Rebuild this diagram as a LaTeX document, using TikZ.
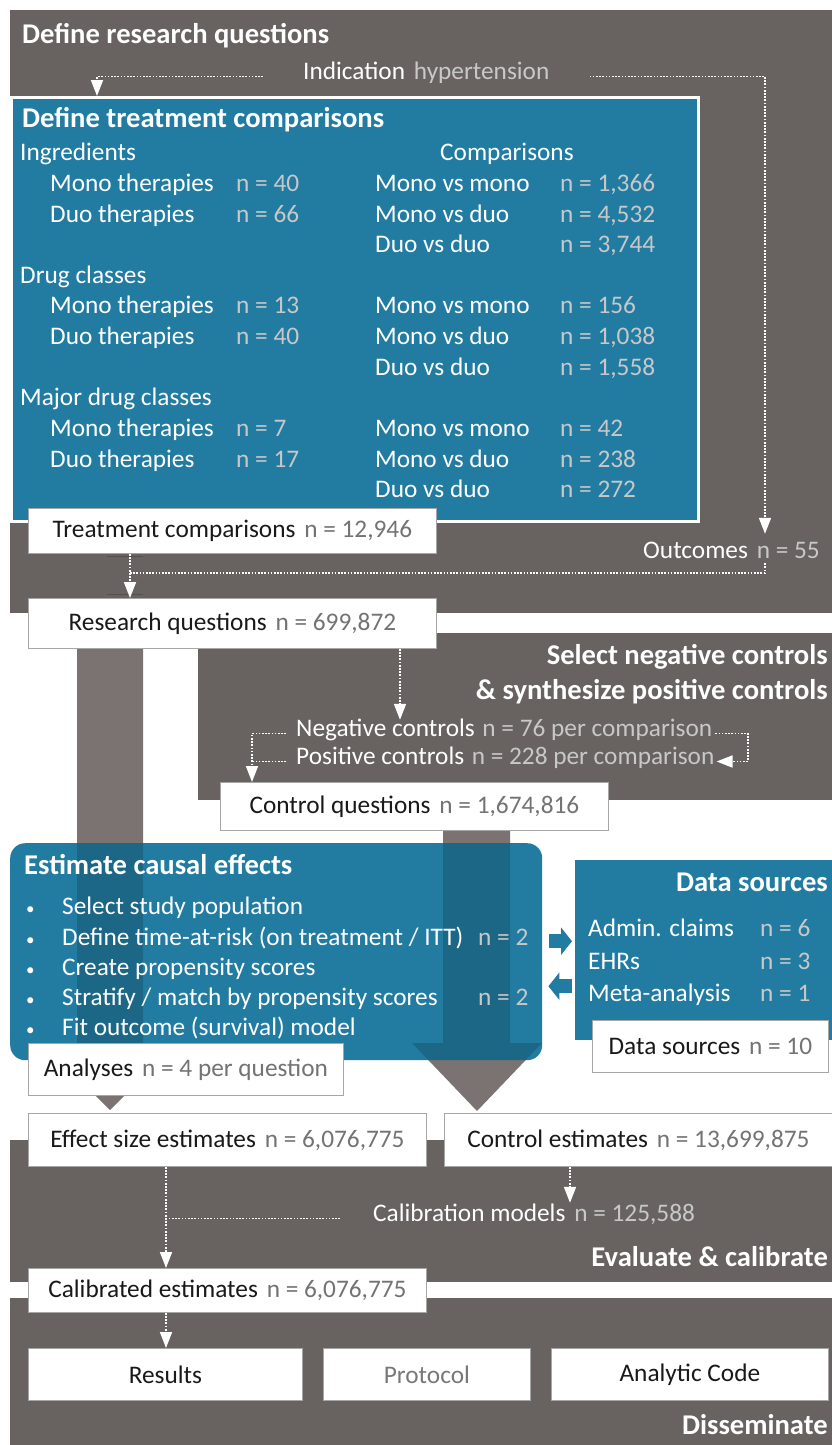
\documentclass[tikz,border=0pt]{standalone}
\usepackage{fontspec}
\setmainfont{Carlito}
\usetikzlibrary{arrows.meta,calc}
\definecolor{panel}{RGB}{104,98,97}
\definecolor{panelline}{RGB}{85,80,79}
\definecolor{tblue}{RGB}{34,124,162}
\definecolor{shaftc}{RGB}{122,115,113}
\definecolor{lval}{RGB}{200,200,200}
\definecolor{dval}{RGB}{115,115,115}
\definecolor{dtext}{RGB}{25,25,25}
\definecolor{pcol}{RGB}{120,120,120}
\begin{document}
\begin{tikzpicture}[x=1pt,y=-1pt,
  every node/.style={font=\fontsize{25.3}{30}\selectfont},
  txt/.style={inner sep=0pt, anchor=west, text height=0.7em, text depth=0.2em, text=white, yshift=-6.5pt},
  val/.style={txt, text=lval},
  ttl/.style={txt, font=\fontsize{28.6}{33}\selectfont\bfseries},
  panelbox/.style={fill=panel, draw=none, anchor=north west, inner sep=0pt},
  bluebox/.style={fill=tblue, draw=none, anchor=north west, inner sep=0pt},
  wbox/.style={fill=white, draw=gray!70, line width=0.8pt, anchor=north west, inner sep=0pt, text=dtext},
  flow/.style={draw=white, line width=1.7pt, dash pattern=on 1.7pt off 1.5pt},
  arr/.style={flow, -{Triangle[width=12pt,length=16pt,fill=white]}},
  barr/.style={draw=tblue, line width=14pt, -{Triangle[width=27pt,length=11pt]}}
]
\useasboundingbox (0,0) rectangle (832,1445);
\fill[white] (0,0) rectangle (832,1445);

% helper coordinates
\coordinate (x97) at (97,0);
\coordinate (x130) at (130,0);
\coordinate (x166) at (166,0);
\coordinate (x252) at (252,0);
\coordinate (x400) at (400,0);
\coordinate (x570) at (570,0);
\coordinate (x748) at (748,0);
\coordinate (x765) at (765,0);

% panels
\node[panelbox, minimum width=822pt, minimum height=603pt] (p1) at (10,10) {};
\node[panelbox, minimum width=634pt, minimum height=167pt] (p2) at (198,633) {};
\node[panelbox, minimum width=822pt, minimum height=142pt] (p3) at (10,1140) {};
\node[panelbox, minimum width=822pt, minimum height=147pt] (p4) at (10,1298) {};

% faint shaft edges between treatment comparisons and research questions
\draw[panelline, line width=1pt] (107,556) -- (143,556);
\draw[panelline, line width=1pt] (107,594) -- (143,594);

% big grey shafts
\fill[shaftc] (77,648) -- (143,648) -- (143,1060) -- (160,1060) -- (110,1110) -- (60,1060) -- (77,1060) -- cycle;
\fill[shaftc] (443,830) -- (510,830) -- (510,1043) -- (542,1043) -- (477,1111) -- (412,1043) -- (443,1043) -- cycle;

% blue boxes
\node[bluebox, draw=white, line width=2.5pt, minimum width=687pt, minimum height=424pt] (tbc) at (10,96) {};
\node[bluebox, rounded corners=15pt, minimum width=532pt, minimum height=217pt] (est) at (10,843) {};
\node[bluebox, minimum width=257pt, minimum height=180pt] (ds) at (575,860) {};

% shafts seen through the blue box
\begin{scope}
\clip[rounded corners=15pt] (10,843) rectangle (542,1060);
\fill[black, fill opacity=0.17] (77,648) -- (143,648) -- (143,1060) -- (160,1060) -- (110,1110) -- (60,1060) -- (77,1060) -- cycle;
\fill[black, fill opacity=0.17] (443,830) -- (510,830) -- (510,1043) -- (542,1043) -- (477,1111) -- (412,1043) -- (443,1043) -- cycle;
\end{scope}

% panel 1 texts
\node[ttl] (t1) at (22,35) {Define research questions};
\node[txt] (ind) at (303,70) {Indication\hspace{0.35em}\textcolor{lval}{hypertension}};
\node[ttl] (t2) at (22,118) {Define treatment comparisons};

\node[txt] (ing) at (20,151) {Ingredients};
\node[txt] (cmp) at (440,151) {Comparisons};
\node[txt] (a1) at (50,182) {Mono therapies};
\node[val] (a1v) at (236,182) {n = 40};
\node[txt] (a2) at (50,213) {Duo therapies};
\node[val] (a2v) at (236,213) {n = 66};
\node[txt] (c1) at (375,182) {Mono vs mono};
\node[val] (c1v) at (560,182) {n = 1,366};
\node[txt] (c2) at (375,213) {Mono vs duo};
\node[val] (c2v) at (560,213) {n = 4,532};
\node[txt] (c3) at (375,243) {Duo vs duo};
\node[val] (c3v) at (560,243) {n = 3,744};

\node[txt] (dc) at (20,274) {Drug classes};
\node[txt] (b1) at (50,304) {Mono therapies};
\node[val] (b1v) at (236,304) {n = 13};
\node[txt] (b2) at (50,335) {Duo therapies};
\node[val] (b2v) at (236,335) {n = 40};
\node[txt] (d1) at (375,304) {Mono vs mono};
\node[val] (d1v) at (560,304) {n = 156};
\node[txt] (d2) at (375,335) {Mono vs duo};
\node[val] (d2v) at (560,335) {n = 1,038};
\node[txt] (d3) at (375,366) {Duo vs duo};
\node[val] (d3v) at (560,366) {n = 1,558};

\node[txt] (mdc) at (20,396) {Major drug classes};
\node[txt] (e1) at (50,427) {Mono therapies};
\node[val] (e1v) at (236,427) {n = 7};
\node[txt] (e2) at (50,458) {Duo therapies};
\node[val] (e2v) at (236,458) {n = 17};
\node[txt] (f1) at (375,427) {Mono vs mono};
\node[val] (f1v) at (560,427) {n = 42};
\node[txt] (f2) at (375,458) {Mono vs duo};
\node[val] (f2v) at (560,458) {n = 238};
\node[txt] (f3) at (375,488) {Duo vs duo};
\node[val] (f3v) at (560,488) {n = 272};

\node[wbox, minimum width=408pt, minimum height=45pt] (tc) at (28,508) {Treatment comparisons\hspace{0.35em}\textcolor{dval}{n = 12,946}};
\node[txt, anchor=east] (out) at (820,549) {Outcomes\hspace{0.35em}\textcolor{lval}{n = 55}};
\node[wbox, minimum width=408pt, minimum height=50pt] (rq) at (28,598) {Research questions\hspace{0.35em}\textcolor{dval}{n = 699,872}};

% panel 1 connectors
\draw[arr] ([xshift=-40pt]ind.west) -| (tbc.north -| x97);
\draw[arr] ([xshift=40pt]ind.east) -| ([yshift=17pt]out.north -| x765);
\coordinate (jn) at (130,573);
\draw[flow] ([yshift=-3pt]out.south -| x765) |- (jn);
\draw[arr] (tc.south -| x130) -- (rq.north -| x130);

% panel 2
\node[ttl, anchor=east] (s1) at (828,655) {Select negative controls};
\node[ttl, anchor=east] (s2) at (828,690) {\& synthesize positive controls};
\node[txt] (neg) at (296,727) {Negative controls\hspace{0.3em}\textcolor{lval}{n = 76 per comparison}};
\node[txt] (pos) at (296,755) {Positive controls\hspace{0.3em}\textcolor{lval}{n = 228 per comparison}};
\node[wbox, minimum width=388pt, minimum height=48pt] (cq) at (220,782) {Control questions\hspace{0.35em}\textcolor{dval}{n = 1,674,816}};

\draw[arr] (rq.south -| x400) -- ([yshift=9pt]neg.north -| x400);
\draw[arr] ([xshift=-10pt]neg.west) -| (cq.north -| x252);
\draw[flow] ([xshift=-10pt]pos.west) -- (pos.west -| x252);
\draw[arr] ([xshift=3pt]neg.east) -| (x748 |- pos.east) -- ([xshift=2pt]pos.east);

% estimate causal effects
\node[ttl] (t3) at (24,865) {Estimate causal effects};
\foreach \yy/\tt [count=\i] in {905/{Select study population}, 936/{Define time-at-risk (on treatment / ITT)}, 966/{Create propensity scores}, 996/{Stratify / match by propensity scores}, 1026/{Fit outcome (survival) model}}{
  \node[txt, font=\fontsize{17}{20}\selectfont] (bul\i) at (26,\yy) {•};
  \node[txt] (step\i) at (62,\yy) {\tt};
}
\node[val] (n2a) at (478,936) {n = 2};
\node[val] (n2b) at (478,996) {n = 2};

% data sources
\node[ttl, anchor=east] (t4) at (828,882) {Data sources};
\node[txt] (g1) at (588,927) {Admin. claims};
\node[val] (g1v) at (760,927) {n = 6};
\node[txt] (g2) at (588,960) {EHRs};
\node[val] (g2v) at (760,960) {n = 3};
\node[txt] (g3) at (588,992) {Meta-analysis};
\node[val] (g3v) at (760,992) {n = 1};
\node[wbox, minimum width=236pt, minimum height=52pt] (ds10) at (592,1020) {Data sources\hspace{0.35em}\textcolor{dval}{n = 10}};

\draw[barr] ($(est.east)+(7pt,10.5pt)$) -- ($(ds.west)+(-3pt,9pt)$);
\draw[barr] ($(ds.west)+(-3pt,-36pt)$) -- ($(est.east)+(6pt,-34.5pt)$);

\node[wbox, minimum width=315pt, minimum height=52pt] (an) at (28,1043) {Analyses\hspace{0.35em}\textcolor{dval}{n = 4 per question}};

% panel 3
\node[wbox, minimum width=398pt, minimum height=53pt] (es) at (28,1113) {Effect size estimates\hspace{0.35em}\textcolor{dval}{n = 6,076,775}};
\node[wbox, minimum width=388pt, minimum height=53pt] (ce) at (444,1113) {Control estimates\hspace{0.35em}\textcolor{dval}{n = 13,699,875}};
\node[txt] (cal) at (373,1212) {Calibration models\hspace{0.35em}\textcolor{lval}{n = 125,588}};
\node[ttl, anchor=east] (t5) at (828,1257) {Evaluate \& calibrate};
\node[wbox, minimum width=398pt, minimum height=44pt] (cb) at (28,1268) {Calibrated estimates\hspace{0.35em}\textcolor{dval}{n = 6,076,775}};

\draw[arr] (ce.south -| x570) -- ([yshift=11pt]cal.north -| x570);
\draw[flow] ([xshift=-33pt]cal.west) -- (cal.west -| x166);
\draw[arr] (es.south -| x166) -- (cb.north -| x166);

% panel 4
\node[wbox, minimum width=274pt, minimum height=52pt] (res) at (28,1348) {Results};
\node[wbox, minimum width=207pt, minimum height=52pt, text=pcol] (prot) at (323,1348) {Protocol};
\node[wbox, minimum width=277pt, minimum height=52pt] (code) at (551,1348) {Analytic Code};
\node[ttl, anchor=east] (t6) at (828,1425) {Disseminate};
\draw[arr] (cb.south -| x166) -- (res.north -| x166);
\end{tikzpicture}
\end{document}
